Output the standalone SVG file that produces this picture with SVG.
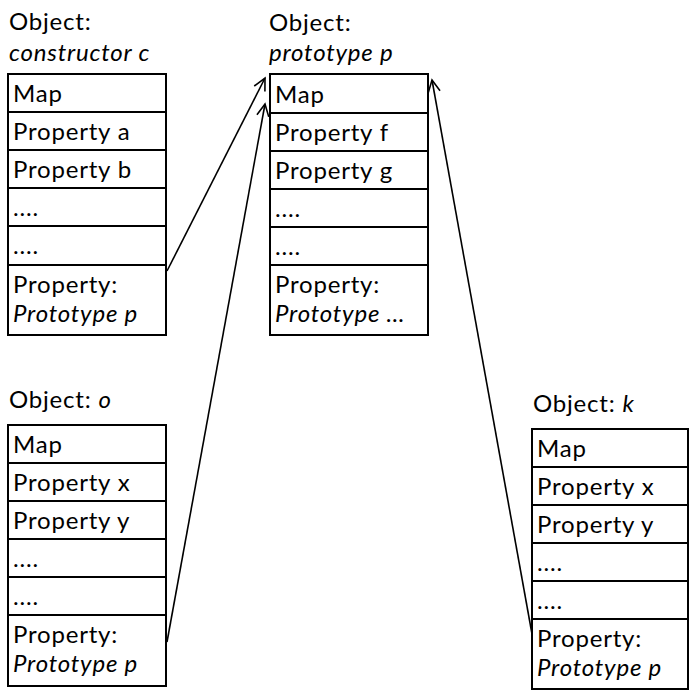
<svg xmlns="http://www.w3.org/2000/svg" width="689" height="691" viewBox="0 0 689 691">
<defs>
<style>
text{font-family:Lato,"Open Sans","Liberation Sans",sans-serif;font-size:24px;letter-spacing:0.8px;fill:#000}
.i{font-style:italic}
.box{fill:#fff;stroke:#000;stroke-width:2}
.row{stroke:#000;stroke-width:2}
.conn{stroke:#000;stroke-width:1.6;fill:none;marker-end:url(#ah)}
</style>
<marker id="ah" markerUnits="userSpaceOnUse" markerWidth="16" markerHeight="16" viewBox="0 0 16 16" refX="14" refY="8" orient="auto">
<path d="M2,2 L14,8 L2,14" fill="none" stroke="#000" stroke-width="1.6"/>
</marker>
</defs>
<rect width="689" height="691" fill="#fff"/>
<g id="node-c">
<text x="9" y="30">Object:</text>
<text x="9" y="61" class="i">constructor c</text>
<rect class="box" x="8" y="74" width="158" height="261"/>
<path class="row" d="M8,112H166M8,150H166M8,188H166M8,226H166M8,265H166"/>
<text x="13" y="102">Map</text>
<text x="13" y="140">Property a</text>
<text x="13" y="178">Property b</text>
<text x="13" y="216">....</text>
<text x="13" y="254">....</text>
<text x="13" y="293">Property:</text>
<text x="13" y="322" class="i">Prototype p</text>
</g>
<g id="node-p">
<text x="269" y="31">Object:</text>
<text x="269" y="61" class="i">prototype p</text>
<rect class="box" x="270" y="74" width="158" height="261"/>
<path class="row" d="M270,113H428M270,151H428M270,189H428M270,227H428M270,265H428"/>
<text x="275" y="103">Map</text>
<text x="275" y="141">Property f</text>
<text x="275" y="179">Property g</text>
<text x="275" y="217">....</text>
<text x="275" y="255">....</text>
<text x="275" y="293">Property:</text>
<text x="275" y="322" class="i">Prototype …</text>
</g>
<g id="node-o">
<text x="9" y="408">Object: <tspan class="i">o</tspan></text>
<rect class="box" x="8" y="425" width="158" height="261"/>
<path class="row" d="M8,463H166M8,501H166M8,539H166M8,577H166M8,615H166"/>
<text x="13" y="453">Map</text>
<text x="13" y="491">Property x</text>
<text x="13" y="529">Property y</text>
<text x="13" y="567">....</text>
<text x="13" y="605">....</text>
<text x="13" y="643">Property:</text>
<text x="13" y="672" class="i">Prototype p</text>
</g>
<g id="node-k">
<text x="533" y="412">Object: <tspan class="i">k</tspan></text>
<rect class="box" x="532" y="429" width="156" height="260"/>
<path class="row" d="M532,467H688M532,505H688M532,543H688M532,581H688M532,619H688"/>
<text x="537" y="457">Map</text>
<text x="537" y="495">Property x</text>
<text x="537" y="533">Property y</text>
<text x="537" y="571">....</text>
<text x="537" y="609">....</text>
<text x="537" y="647">Property:</text>
<text x="537" y="676" class="i">Prototype p</text>
</g>
<g id="connectors">
<line class="conn" x1="167" y1="271" x2="265" y2="78"/>
<line class="conn" x1="167" y1="642" x2="265" y2="104"/>
<line class="conn" x1="532" y1="634" x2="432" y2="80"/>
</g>
</svg>
